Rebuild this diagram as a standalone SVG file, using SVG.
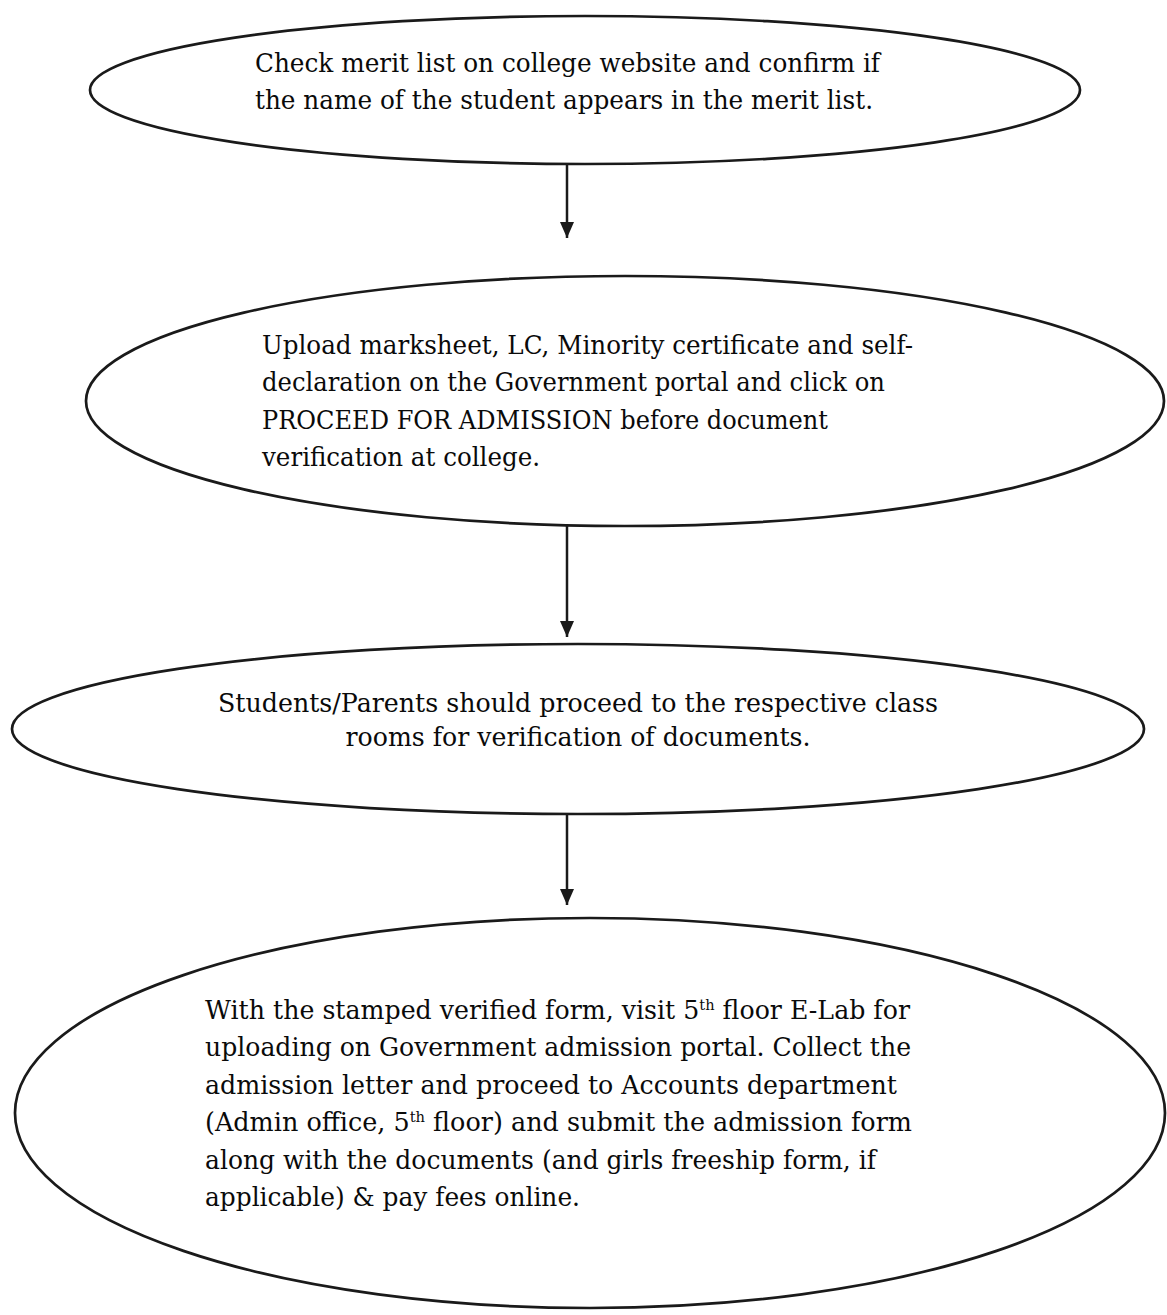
<svg xmlns="http://www.w3.org/2000/svg" width="1167" height="1315" viewBox="0 0 1167 1315">
  <style>
    .shape { fill: none; stroke: #1a1a1a; stroke-width: 2.7; }
    .lbl { font-family: "DejaVu Serif", "Liberation Serif", serif; font-size: 26px; fill: #0a0a0a; }
    .sup { font-size: 15px; }
    .conn { stroke: #1a1a1a; stroke-width: 2.5; fill: none; }
  </style>
  <defs>
    <marker id="arrow" viewBox="0 0 16 14" refX="16" refY="7" markerWidth="16" markerHeight="14" markerUnits="userSpaceOnUse" orient="auto">
      <path d="M0,0 L16,7 L0,14 Z" fill="#1a1a1a"/>
    </marker>
  </defs>
  <rect x="0" y="0" width="1167" height="1315" fill="#ffffff"/>

  <g id="node1">
    <ellipse class="shape" cx="585" cy="90" rx="495" ry="74"/>
    <text class="lbl" x="255" y="72" textLength="625" lengthAdjust="spacingAndGlyphs">Check merit list on college website and confirm if</text>
    <text class="lbl" x="255" y="109" textLength="618" lengthAdjust="spacingAndGlyphs">the name of the student appears in the merit list.</text>
  </g>

  <g id="node2">
    <ellipse class="shape" cx="625" cy="401" rx="539" ry="125"/>
    <text class="lbl" x="262" y="354" textLength="651" lengthAdjust="spacingAndGlyphs">Upload marksheet, LC, Minority certificate and self-</text>
    <text class="lbl" x="262" y="391" textLength="623" lengthAdjust="spacingAndGlyphs">declaration on the Government portal and click on</text>
    <text class="lbl" x="262" y="429" textLength="566" lengthAdjust="spacingAndGlyphs">PROCEED FOR ADMISSION before document</text>
    <text class="lbl" x="262" y="466" textLength="278" lengthAdjust="spacingAndGlyphs">verification at college.</text>
  </g>

  <g id="node3">
    <ellipse class="shape" cx="578" cy="729" rx="566" ry="85"/>
    <text class="lbl" x="578" y="712" text-anchor="middle" textLength="720" lengthAdjust="spacingAndGlyphs">Students/Parents should proceed to the respective class</text>
    <text class="lbl" x="578" y="746" text-anchor="middle" textLength="465" lengthAdjust="spacingAndGlyphs">rooms for verification of documents.</text>
  </g>

  <g id="node4">
    <ellipse class="shape" cx="590" cy="1113" rx="575" ry="195"/>
    <text class="lbl" x="205" y="1019" textLength="705" lengthAdjust="spacingAndGlyphs">With the stamped verified form, visit 5<tspan class="sup" baseline-shift="super">th</tspan> floor E-Lab for</text>
    <text class="lbl" x="205" y="1056" textLength="706" lengthAdjust="spacingAndGlyphs">uploading on Government admission portal. Collect the</text>
    <text class="lbl" x="205" y="1094" textLength="692" lengthAdjust="spacingAndGlyphs">admission letter and proceed to Accounts department</text>
    <text class="lbl" x="205" y="1131" textLength="707" lengthAdjust="spacingAndGlyphs">(Admin office, 5<tspan class="sup" baseline-shift="super">th</tspan> floor) and submit the admission form</text>
    <text class="lbl" x="205" y="1169" textLength="671" lengthAdjust="spacingAndGlyphs">along with the documents (and girls freeship form, if</text>
    <text class="lbl" x="205" y="1206" textLength="375" lengthAdjust="spacingAndGlyphs">applicable) &amp; pay fees online.</text>
  </g>

  <g id="connectors">
    <line class="conn" x1="567" y1="164" x2="567" y2="238" marker-end="url(#arrow)"/>
    <line class="conn" x1="567" y1="526" x2="567" y2="637" marker-end="url(#arrow)"/>
    <line class="conn" x1="567" y1="814" x2="567" y2="905" marker-end="url(#arrow)"/>
  </g>
</svg>
